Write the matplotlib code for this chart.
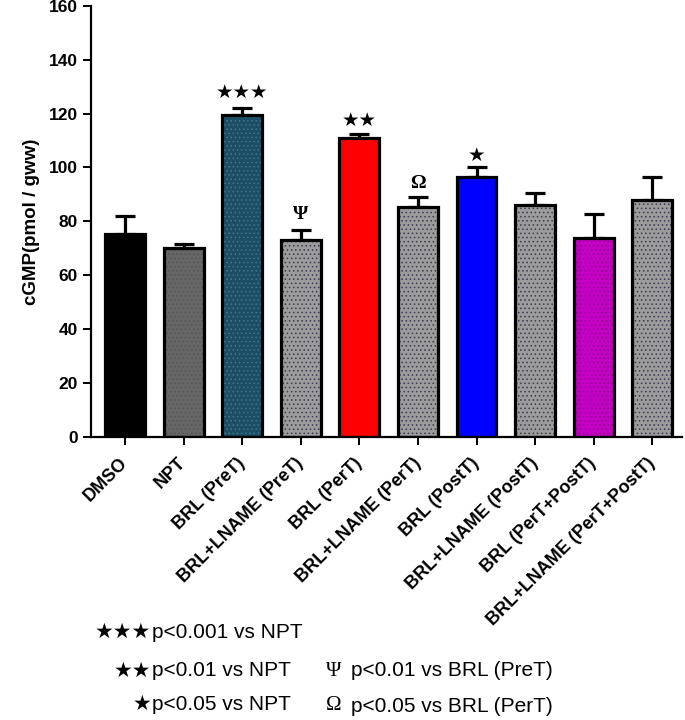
import matplotlib.pyplot as plt

# valores
grupos = ['DMSO', 'NPT', 'BRL (PreT)', 'BRL+LNAME (PreT)', 'BRL (PerT)',
          'BRL+LNAME (PerT)', 'BRL (PostT)', 'BRL+LNAME (PostT)',
          'BRL (PerT+PostT)', 'BRL+LNAME (PerT+PostT)']
medias = [75.5, 70.0, 119.3, 73.0, 111.0, 85.2, 96.3, 86.0, 74.0, 87.8]
erros = [6.5, 1.5, 2.9, 3.8, 1.3, 3.8, 3.8, 4.6, 8.6, 8.5]
cores = ['#000000', '#666666', '#1c4f66', '#9c9c9c', '#ff0000',
         '#9c9c9c', '#0000ff', '#9c9c9c', '#c400c4', '#9c9c9c']
hachuras = ['', '....', '....', '....', '', '....', '', '....', '....', '....']
cor_pontos = ['#000000', '#555555', '#3d7890', '#3a3a50', '#ff0000',
              '#3a3a50', '#0000ff', '#3a3a50', '#8a008a', '#3a3a50']
marcas = ['', '', '★★★', 'Ψ', '★★', 'Ω', '★', '', '', '']
posicao_marca = [0, 0, 127.8, 82.5, 117.4, 94.2, 104.3, 0, 0, 0]

plt.rcParams['hatch.linewidth'] = 0.6

fig = plt.figure(figsize=(6.85, 7.2), dpi=100)
ax = fig.add_axes([0.133, 0.393, 0.862, 0.599])

x = list(range(len(grupos)))
for i in x:
    plt.rcParams['hatch.color'] = cor_pontos[i]
    ax.bar(i, medias[i], width=0.68, color=cores[i], hatch=hachuras[i],
           edgecolor=cor_pontos[i], linewidth=0, zorder=2)
ax.bar(x, medias, width=0.68, fill=False, edgecolor='black', linewidth=2.3, zorder=3)
ax.errorbar(x, medias, yerr=[[0] * len(erros), erros], fmt='none', ecolor='black',
            elinewidth=2.3, capsize=7, capthick=2.3, zorder=1)

for i, m in enumerate(marcas):
    if not m:
        continue
    if m in ('Ψ', 'Ω'):
        ax.text(i, posicao_marca[i], m, ha='center', va='center', fontsize=14,
                fontweight='bold', family=['Liberation Serif', 'DejaVu Serif'])
    else:
        ax.text(i, posicao_marca[i], m, ha='center', va='center', fontsize=14,
                family='DejaVu Sans')

ax.set_xlim(-0.58, 9.5)
ax.set_ylim(0, 160)
ax.set_yticks(range(0, 161, 20))
ax.set_xticks(x)
ax.set_xticklabels(grupos, rotation=45, ha='right', va='center', rotation_mode='anchor',
                   fontweight='bold', fontsize=13, family='Liberation Sans')
for lbl in ax.get_yticklabels():
    lbl.set_fontweight('bold')
    lbl.set_fontsize(12.5)
    lbl.set_family('Liberation Sans')
ax.set_ylabel('cGMP(pmol / gww)', fontweight='bold', fontsize=13.5,
              family='Liberation Sans', labelpad=6)
ax.spines['top'].set_visible(False)
ax.spines['right'].set_visible(False)
ax.spines['left'].set_linewidth(1.6)
ax.spines['bottom'].set_linewidth(1.6)
ax.tick_params(width=1.4, length=6)
ax.tick_params(axis='x', pad=11)

# legenda de significância
linhas_estrela = [('★★★', 'p<0.001 vs NPT', 632), ('★★', 'p<0.01 vs NPT', 671),
                  ('★', 'p<0.05 vs NPT', 704)]
for estrelas, txt, yp in linhas_estrela:
    fig.text(151 / 685, 1 - yp / 720, estrelas, ha='right', va='center',
             fontsize=15, family='DejaVu Sans')
    fig.text(152 / 685, 1 - yp / 720, txt, ha='left', va='center',
             fontsize=15, family='Liberation Sans')
for simb, txt, yp in [('Ψ', 'p<0.01 vs BRL (PreT)', 671), ('Ω', 'p<0.05 vs BRL (PerT)', 706)]:
    fig.text(326 / 685, 1 - yp / 720, simb, ha='left', va='center',
             fontsize=15, family=['Liberation Serif', 'DejaVu Serif'])
    fig.text(351 / 685, 1 - yp / 720, txt, ha='left', va='center',
             fontsize=15, family='Liberation Sans')

fig.savefig('out.png', dpi=100)
